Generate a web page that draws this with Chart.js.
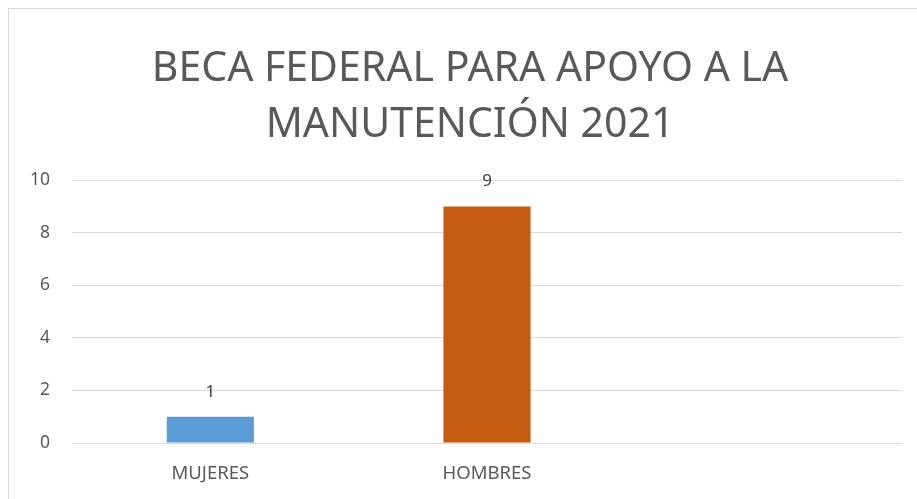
<!DOCTYPE html>
<html>
<head>
<meta charset="utf-8">
<script src="https://cdn.jsdelivr.net/npm/chart.js@4.4.1/dist/chart.umd.min.js"></script>
<style>
    html, body { margin: 0; padding: 0; background: #fff; overflow: hidden; }
    #wrap { position: relative; width: 917px; height: 499px; overflow: hidden; }
    #frame { position: absolute; left: 8px; top: 8px; width: 940px; height: 520px; border: 1px solid #d9d9d9; box-sizing: border-box; }
    canvas { position: absolute; left: 0; top: 0; }
</style>
</head>
<body>
<div id="wrap">
    <div id="frame"></div>
    <canvas id="chart" width="940" height="499"></canvas>
</div>
<script>
// datos del gráfico
const categorias = ['MUJERES', 'HOMBRES', ''];
const valores = [1, 9, null];
const colores = ['#5B9BD5', '#C55A11', '#A5A5A5'];
const ticksY = [0, 2, 4, 6, 8, 10];

const FONT = "'Noto Sans', 'Open Sans', sans-serif";
const GRIS = '#595959';

// etiquetas de valor encima de cada barra
const etiquetasValor = {
    id: 'etiquetasValor',
    afterDatasetsDraw(chart) {
        const ctx = chart.ctx;
        const meta = chart.getDatasetMeta(0);
        ctx.save();
        ctx.font = '17px ' + FONT;
        ctx.fillStyle = '#404040';
        ctx.textAlign = 'center';
        ctx.textBaseline = 'middle';
        meta.data.forEach((bar, i) => {
            const v = valores[i];
            if (v === null || v === undefined) return;
            ctx.fillText(String(v), bar.x, bar.y - 25);
        });
        ctx.restore();
    }
};

new Chart(document.getElementById('chart'), {
    type: 'bar',
    data: {
        labels: categorias,
        datasets: [{
            data: valores,
            backgroundColor: colores,
            categoryPercentage: 1,
            barPercentage: 0.315
        }]
    },
    options: {
        responsive: false,
        animation: false,
        layout: { padding: { left: 8, right: 8, top: 0, bottom: 0 } },
        plugins: {
            legend: { display: false },
            tooltip: { enabled: false },
            title: {
                display: true,
                text: ['BECA FEDERAL PARA APOYO A LA', 'MANUTENCIÓN 2021'],
                color: GRIS,
                font: { family: FONT, size: 41, weight: 'normal', lineHeight: 1.37 },
                padding: { top: 41, bottom: 27 }
            }
        },
        scales: {
            x: {
                grid: { display: false },
                border: { display: false },
                ticks: { color: GRIS, font: { family: FONT, size: 18.5 }, padding: 12 },
                afterFit: s => { s.height = 56; }
            },
            y: {
                min: 0,
                max: 10,
                afterBuildTicks: s => { s.ticks = ticksY.map(v => ({ value: v })); },
                grid: { color: '#d9d9d9', lineWidth: 1, drawTicks: false },
                border: { display: false },
                ticks: { color: GRIS, font: { family: FONT, size: 17.5 }, padding: 22 },
                afterFit: s => { s.width = 64; }
            },
            // eje vacío a la derecha, solo reserva el margen
            yDer: {
                position: 'right',
                grid: { display: false },
                border: { display: false },
                ticks: { display: false },
                afterFit: s => { s.width = 30; }
            }
        }
    },
    plugins: [etiquetasValor]
});
</script>
</body>
</html>
